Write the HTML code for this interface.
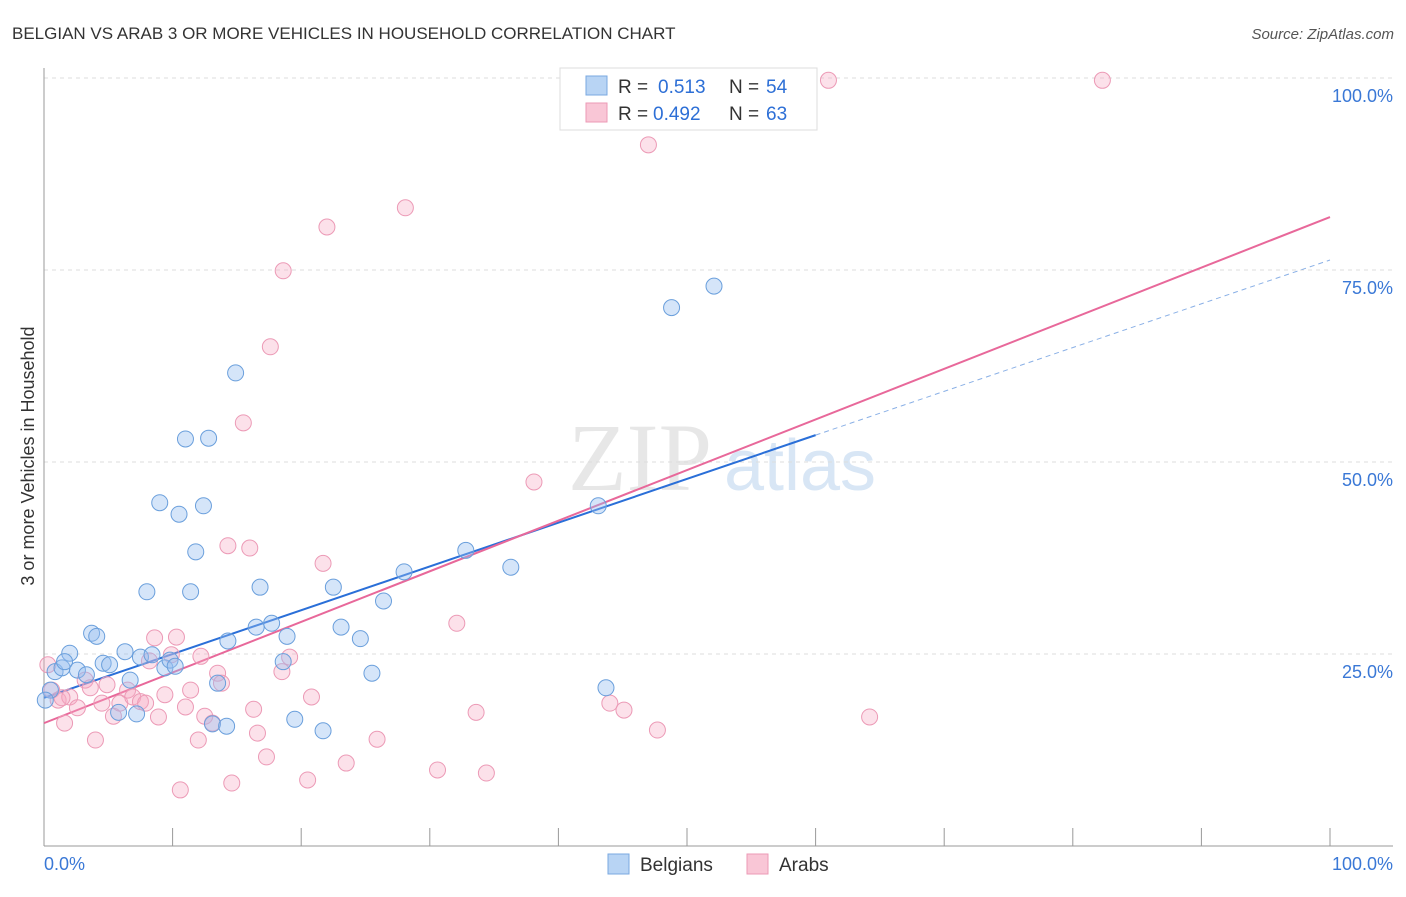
<!DOCTYPE html>
<html><head><meta charset="utf-8"><style>
body{margin:0;background:#fff;font-family:"Liberation Sans",sans-serif;}
</style></head><body>
<svg id="chart" width="1406" height="892" xmlns="http://www.w3.org/2000/svg">
<text x="12" y="39" font-size="17" fill="#333">BELGIAN VS ARAB 3 OR MORE VEHICLES IN HOUSEHOLD CORRELATION CHART</text>
<text x="1394" y="39" font-size="15" fill="#555" font-style="italic" text-anchor="end">Source: ZipAtlas.com</text>
<text x="34" y="456" font-size="18" fill="#333" text-anchor="middle" transform="rotate(-90 34 456)">3 or more Vehicles in Household</text>
<g>
<text x="640" y="490" font-size="96" fill="#ddd" font-family="Liberation Serif,serif" text-anchor="middle" opacity="0.7">ZIP</text>
<text x="800" y="490" font-size="72" fill="#c8dcf2" text-anchor="middle" opacity="0.7">atlas</text>
</g>
<g id="grid"></g><g id="axes"></g><g id="lines"></g><g id="pts"></g>
<g>
<rect x="560" y="68" width="257" height="62" fill="#fff" stroke="#ddd"/>
<rect x="586" y="76" width="21" height="19" fill="#b8d4f4" stroke="#7aa8e0"/>
<rect x="586" y="103" width="21" height="19" fill="#f9c6d6" stroke="#ec9ab6"/>
<text y="93" font-size="19" fill="#333"><tspan x="618">R =</tspan><tspan x="658" fill="#2d6fd6">0.513</tspan><tspan x="729">N =</tspan><tspan x="766" fill="#2d6fd6">54</tspan></text>
<text y="120" font-size="19" fill="#333"><tspan x="618">R =</tspan><tspan x="653" fill="#2d6fd6">0.492</tspan><tspan x="729">N =</tspan><tspan x="766" fill="#2d6fd6">63</tspan></text>
</g>
<g>
<rect x="608" y="854" width="21" height="20" fill="#b8d4f4" stroke="#7aa8e0"/>
<text x="640" y="871" font-size="19" fill="#333">Belgians</text>
<rect x="747" y="854" width="21" height="20" fill="#f9c6d6" stroke="#ec9ab6"/>
<text x="779" y="871" font-size="19" fill="#333">Arabs</text>
</g>
</svg>
<script>
const yTicks=[25,50,75,100];
const yTickLabels=["25.0%","50.0%","75.0%","100.0%"];
const blueX=[0.86,1.4,2.0,1.6,2.6,3.3,3.7,4.1,4.6,5.1,5.8,6.3,6.7,7.2,7.5,8.0,8.4,9.0,9.4,9.8,10.2,10.5,11.0,11.4,11.8,12.4,12.8,13.1,13.5,14.2,14.3,14.9,16.5,16.8,17.7,18.6,18.9,19.5,21.7,22.5,23.1,24.6,25.5,26.4,28.0,32.8,36.3,43.1,43.7,48.8,52.1,0.5,0.1];
const blueY=[22.7,23.2,25.1,24.0,22.9,22.3,27.7,27.3,23.8,23.6,17.4,25.3,21.6,17.2,24.6,33.1,24.9,44.7,23.2,24.2,23.4,43.2,53.0,33.1,38.3,44.3,53.1,15.9,21.2,15.6,26.7,61.6,28.5,33.7,29.0,24.0,27.3,16.5,15.0,33.7,28.5,27.0,22.5,31.9,35.7,38.5,36.3,44.3,20.6,70.1,72.9,20.3,19.0];
const pinkX=[0.3,0.6,1.1,1.6,2.0,2.6,3.2,3.6,4.0,4.5,4.9,5.4,5.9,6.5,6.9,7.5,7.9,8.2,8.6,8.9,9.4,9.9,10.3,10.6,11.0,11.4,12.0,12.2,12.5,13.1,13.5,13.8,14.3,14.6,15.5,16.0,16.3,16.6,17.3,17.6,18.5,18.6,19.1,20.5,20.8,21.7,22.0,23.5,25.9,28.1,30.6,32.1,33.6,34.4,38.1,44.0,45.1,47.0,47.7,61.0,64.2,82.3,1.4];
const pinkY=[23.6,20.3,19.0,16.0,19.4,18.0,21.6,20.6,13.8,18.6,21.0,16.9,18.6,20.3,19.4,18.8,18.6,24.1,27.1,16.8,19.7,24.9,27.2,7.3,18.1,20.3,13.8,24.7,16.9,16.0,22.5,21.2,39.1,8.2,55.1,38.8,17.8,14.7,11.6,65.0,22.7,74.9,24.6,8.6,19.4,36.8,80.6,10.8,13.9,83.1,9.9,29.0,17.4,9.5,47.4,18.6,17.7,91.3,15.1,99.7,16.8,99.7,19.3];
const blueFit=[19.3,0.57];
const pinkFit=[16.0,0.659];
const NS="http://www.w3.org/2000/svg";
const X=v=>44+v*12.86, Y=v=>846-v*7.68;
function mk(t,a,p){const e=document.createElementNS(NS,t);for(const k in a)e.setAttribute(k,a[k]);document.getElementById(p).appendChild(e);return e;}
yTicks.forEach((t,i)=>{
 const g=mk('line',{x1:44,x2:1393,y1:Y(t),y2:Y(t),stroke:'#ddd','stroke-dasharray':'4,4'},'grid');
 
 
 const l=mk('text',{x:1393,y:Y(t)+24,'font-size':18,fill:'#3a78d6','text-anchor':'end'},'grid');
 l.textContent=yTickLabels[i];
 
 
});
let a=mk('line',{x1:44,x2:44,y1:68,y2:846,stroke:'#999'},'axes');


a=mk('line',{x1:44,x2:1393,y1:846,y2:846,stroke:'#999'},'axes');


for(let i=1;i<=10;i++){const t=mk('line',{x1:X(i*10),x2:X(i*10),y1:828,y2:846,stroke:'#999'},'axes');
 
 }
let tl=mk('text',{x:44,y:870,'font-size':18,fill:'#3a78d6'},'axes');tl.textContent='0.0%';


tl=mk('text',{x:1393,y:870,'font-size':18,fill:'#3a78d6','text-anchor':'end'},'axes');tl.textContent='100.0%';


pinkX.forEach((x,i)=>{const c=mk('circle',{cx:X(x),cy:Y(pinkY[i]),r:8,fill:'rgba(245,170,196,0.35)',stroke:'#ec9ab6','stroke-width':1},'pts');
 
 });
blueX.forEach((x,i)=>{const c=mk('circle',{cx:X(x),cy:Y(blueY[i]),r:8,fill:'rgba(150,190,240,0.4)',stroke:'#6a9fdc','stroke-width':1},'pts');
 
 });
let ln=mk('line',{x1:X(0),y1:Y(blueFit[0]),x2:X(60),y2:Y(blueFit[0]+60*blueFit[1]),stroke:'#2a6fd8','stroke-width':2},'lines');


ln=mk('line',{x1:X(60),y1:Y(blueFit[0]+60*blueFit[1]),x2:X(100),y2:Y(blueFit[0]+100*blueFit[1]),stroke:'#8ab0e6','stroke-width':1,'stroke-dasharray':'5,4'},'lines');


ln=mk('line',{x1:X(0),y1:Y(pinkFit[0]),x2:X(100),y2:Y(pinkFit[0]+100*pinkFit[1]),stroke:'#e8689a','stroke-width':2},'lines');


</script>
</body></html>
